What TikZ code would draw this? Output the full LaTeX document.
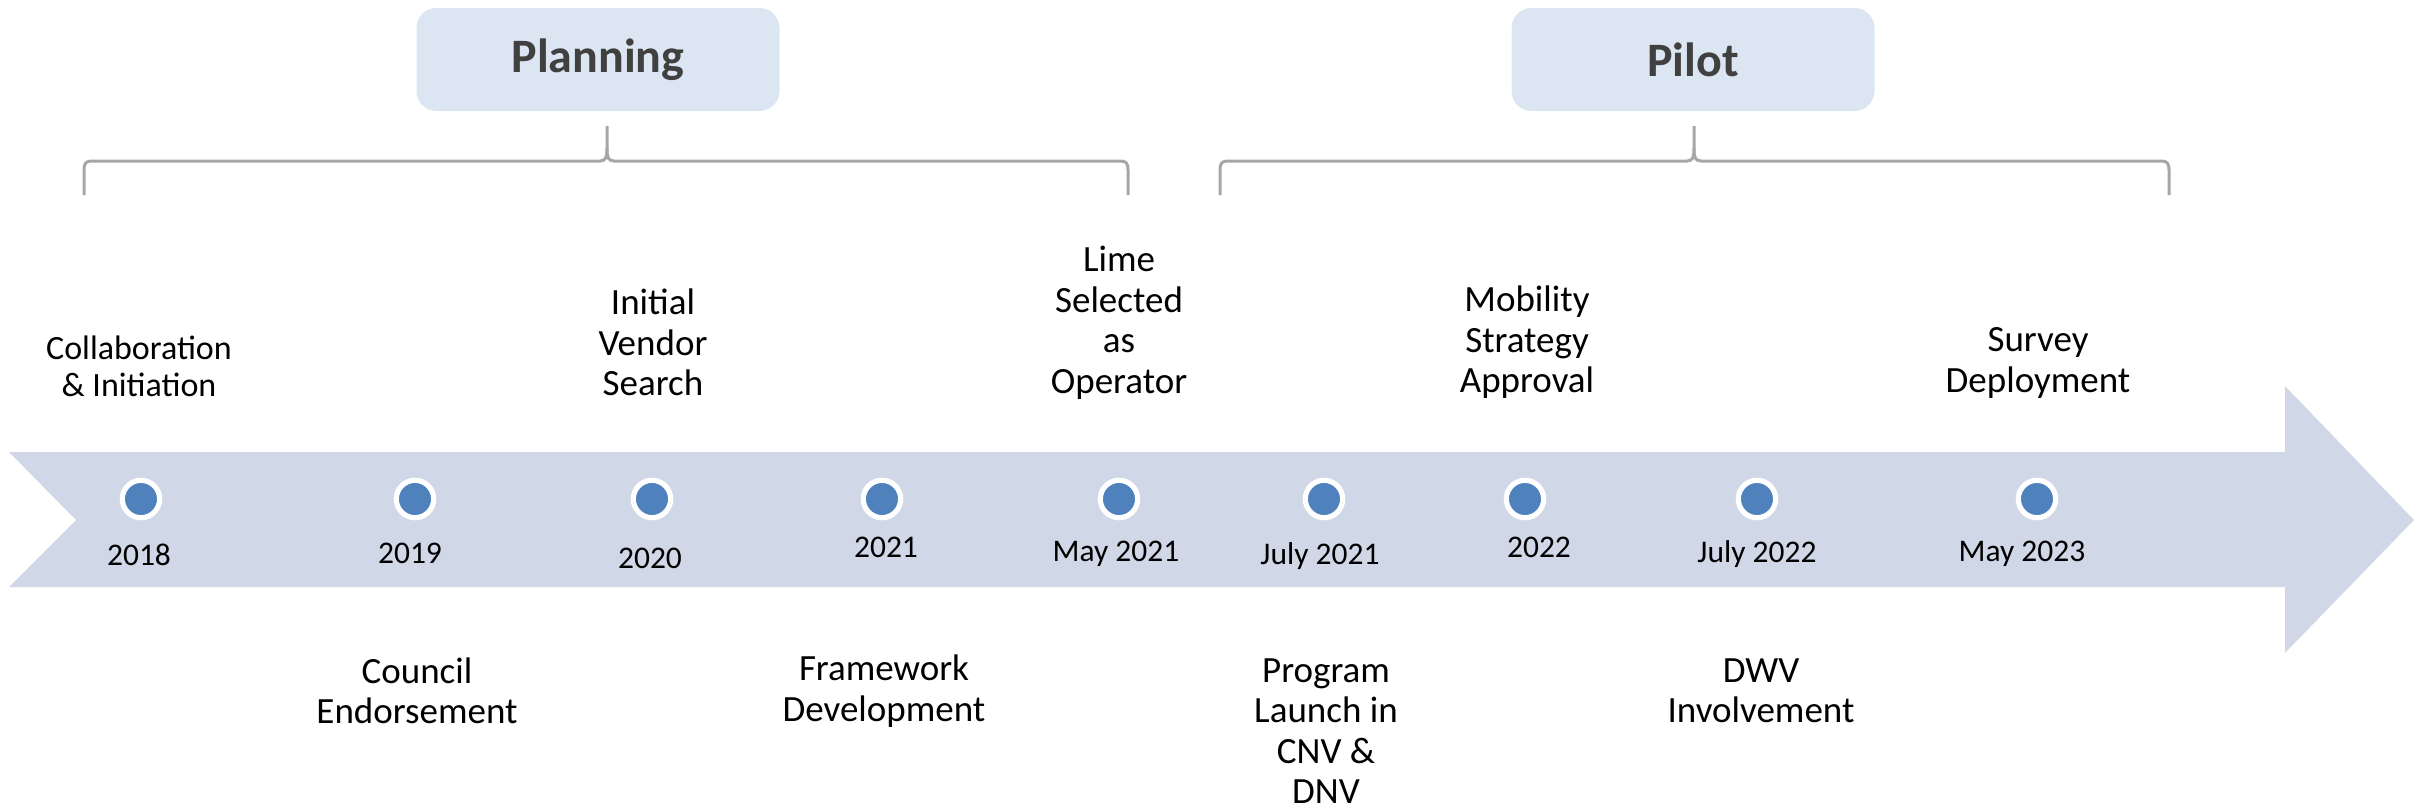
\documentclass[tikz,border=0pt]{standalone}
\usepackage{fontspec}
\setmainfont{Carlito}

\definecolor{bandColor}{HTML}{D0D8E8}
\definecolor{boxColor}{HTML}{DCE6F2}
\definecolor{dotColor}{HTML}{4F81BD}
\definecolor{braceColor}{HTML}{A6A6A6}
\definecolor{titleColor}{HTML}{404040}

\begin{document}
\begin{tikzpicture}
[x=0.5pt,y=-0.5pt,%
  phaseBox/.style={shape=rectangle,rounded corners=10pt,fill=boxColor,minimum width=181.5pt,minimum height=51.5pt,text=titleColor,font=\bfseries\fontsize{24}{28}\selectfont},%
  braceLine/.style={draw=braceColor,line width=1.5pt,line join=round},%
  dotNode/.style={shape=circle,fill=dotColor,draw=white,line width=2.6pt,minimum size=18.7pt,inner sep=0pt},%
  dateLabel/.style={inner sep=0pt,font=\fontsize{15.75}{19}\selectfont},%
  eventLabel/.style={inner sep=0pt,align=center,font=\fontsize{18.5}{20.25}\selectfont}]
\useasboundingbox (0,0) rectangle (2427,809);
%% band arrow
\fill[bandColor] (9,452) -- (2285,452) -- (2285,386) -- (2414,520) -- (2285,653)
  -- (2285,587) -- (9,587) -- (76,520) -- cycle;
%% phases
\node (planning) at (598,59.5) [phaseBox] {Planning};
\node (pilot) at (1693,59.5) [phaseBox] {Pilot};
%% braces
\foreach \bl/\bm/\br in {84/607/1128, 1220/1694/2169}
{
  \draw[braceLine] (\bl,195) -- (\bl,170) .. controls (\bl,163) and ({\bl+2},161) .. ({\bl+8},161)
    -- ({\bm-7},161) .. controls ({\bm-1},161) and (\bm,157) .. (\bm,148) -- (\bm,126);
  \draw[braceLine] (\bm,148) .. controls (\bm,157) and ({\bm+1},161) .. ({\bm+7},161)
    -- ({\br-8},161) .. controls ({\br-2},161) and (\br,163) .. (\br,170) -- (\br,195);
}
%% dots on the band
\foreach \nodename/\x in {d1/141, d2/415, d3/652, d4/882, d5/1119, d6/1324, d7/1525, d8/1757, d9/2037}
{
  \node (\nodename) at (\x,499) [dotNode] {};
}
%% dates
\foreach \nodename/\x/\y/\txt in {t1/139/555/2018, t2/410/553/2019, t3/650/558/2020,
  t4/886/547/2021, t5/1116/554/May 2021, t6/1320/556/July 2021, t7/1539/547/2022,
  t8/1757/554/July 2022, t9/2022/554/May 2023}
{
  \node (\nodename) at (\x,\y) [dateLabel] {\txt};
}
%% events above the band
\node (e1) at (139,366.5) [eventLabel,font=\fontsize{17}{18.5}\selectfont] {Collaboration\\\& Initiation};
\foreach \nodename/\x/\y/\txt in {e3/653/342.5/{Initial\\Vendor\\Search},
  e5/1119/322.5/{Lime\\Selected\\as\\Operator},
  e7/1527/342.5/{Mobility\\Strategy\\Approval},
  e9/2038/363/{Survey\\Deployment}}
{
  \node (\nodename) at (\x,\y) [eventLabel] {\txt};
}
%% events below the band
\foreach \nodename/\x/\y/\txt in {e2/417/691/{Council\\Endorsement},
  e4/884/691/{Framework\\Development},
  e6/1326/731/{Program\\Launch in\\CNV \&\\DNV},
  e8/1761/691/{DWV\\Involvement}}
{
  \node (\nodename) at (\x,\y) [eventLabel] {\txt};
}
\end{tikzpicture}
\end{document}
